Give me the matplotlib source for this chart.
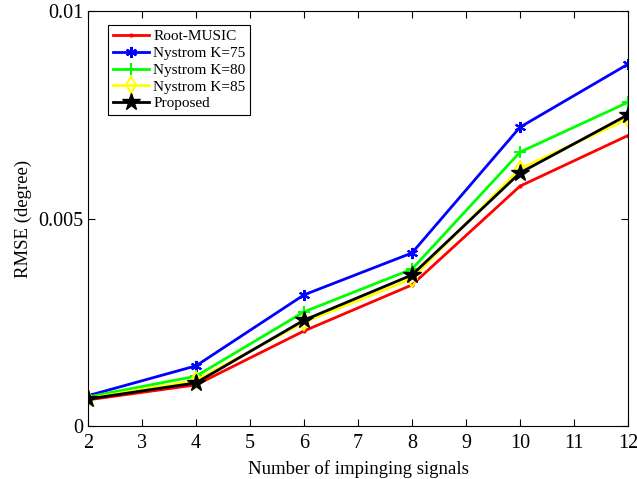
import matplotlib
matplotlib.use('Agg')
import matplotlib.pyplot as plt

plt.rcParams.update({
    'font.family': 'Liberation Serif',
    'font.size': 13.5,
})

signals = [2, 4, 6, 8, 10, 12]
root_music = [0.00063, 0.00099, 0.00229, 0.00340, 0.00578, 0.00700]
nys_75 = [0.00073, 0.00145, 0.00316, 0.00417, 0.00720, 0.00872]
nys_80 = [0.00070, 0.00120, 0.00275, 0.00378, 0.00660, 0.00780]
nys_85 = [0.00066, 0.00110, 0.00250, 0.00355, 0.00620, 0.00740]
proposed = [0.00065, 0.00104, 0.00255, 0.00364, 0.00610, 0.00750]

fig = plt.figure(figsize=(6.37, 4.79), dpi=100)
ax = fig.add_axes([88/637, 1 - 426/479, 540/637, 415/479])

ax.plot(signals, root_music, color='red', lw=2, marker='.', ms=4, label='Root-MUSIC')
ax.plot(signals, nys_75, color='blue', lw=2, marker=(6, 2, 0), ms=8, mew=1.5,
        label='Nystrom K=75')
ax.plot(signals, nys_80, color='#00ff00', lw=2, marker='+', ms=9, mew=1.5,
        label='Nystrom K=80')
ax.plot(signals, nys_85, color='yellow', lw=2, marker='d', ms=8, mfc='none', mew=1.5,
        label='Nystrom K=85')
ax.plot(signals, proposed, color='black', lw=2, marker='*', ms=13, label='Proposed')

ax.set_xlim(2, 12)
ax.set_ylim(0, 0.01)
ax.set_xticks(range(2, 13))
ax.set_yticks([0, 0.005, 0.01])
ax.set_yticklabels(['0', '0.005', '0.01'])
ax.tick_params(direction='in', top=True, right=True, length=5, width=0.8,
               labelsize=14.5)
ax.tick_params(axis='x', pad=6)
for s in ax.spines.values():
    s.set_linewidth(0.8)

ax.set_xlabel('Number of impinging signals', labelpad=5)
ax.set_ylabel('RMSE (degree)')

leg = ax.legend(loc='upper left', bbox_to_anchor=(0.037, 0.966), borderaxespad=0,
                fontsize=11, fancybox=False, edgecolor='black', framealpha=1,
                handlelength=2.4, borderpad=0.3, labelspacing=0.2, handletextpad=0.25)
leg.get_frame().set_linewidth(0.8)

fig.savefig('out.png', dpi=100, facecolor='white')
